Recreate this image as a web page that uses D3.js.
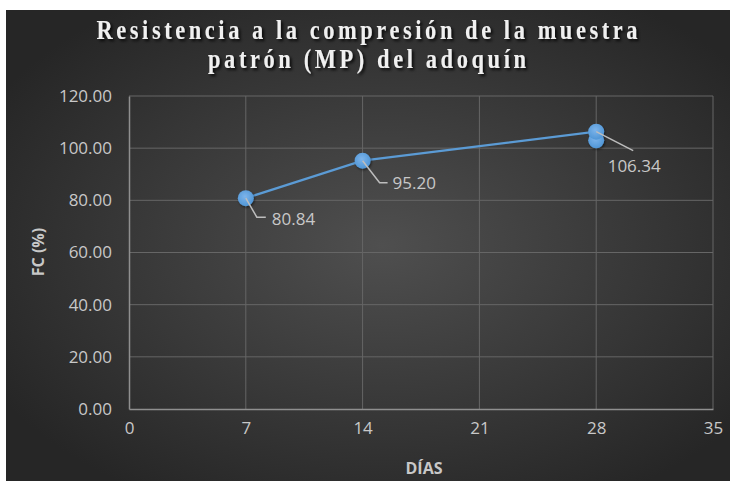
<!DOCTYPE html>
<html>
<head>
<meta charset="utf-8">
<script src="https://cdn.jsdelivr.net/npm/d3@7"></script>
<style>
  html, body { margin: 0; padding: 0; background: #ffffff; }
  svg { display: block; }
</style>
</head>
<body>
<svg id="chart" width="730" height="486"></svg>
<script>
// Compression strength of the reference paver sample (MP) by curing age
const titleLines = ["Resistencia a la compresión de la muestra", "patrón (MP) del adoquín"];
const days = [7, 14, 28];
const fcValues = [80.84, 95.20, 106.34];
const extraDays = [28];          // additional specimen marker at 28 days
const extraValues = [103.0];
const xTicks = [0, 7, 14, 21, 28, 35];
const yTicks = [0, 20, 40, 60, 80, 100, 120];
const xTitle = "DÍAS";
const yTitle = "FC (%)";

const svg = d3.select("#chart");
const W = 730, H = 486;

const defs = svg.append("defs");
const bg = defs.append("radialGradient").attr("id", "bgGrad")
  .attr("cx", "52%").attr("cy", "50%").attr("r", "62%");
bg.append("stop").attr("offset", "0%").attr("stop-color", "#4f4f4f");
bg.append("stop").attr("offset", "100%").attr("stop-color", "#262626");

const mk = defs.append("radialGradient").attr("id", "mkGrad")
  .attr("cx", "45%").attr("cy", "40%").attr("r", "60%");
mk.append("stop").attr("offset", "0%").attr("stop-color", "#7db4ea");
mk.append("stop").attr("offset", "100%").attr("stop-color", "#5096d6");

const sh = defs.append("filter").attr("id", "titleShadow")
  .attr("x", "-10%").attr("y", "-30%").attr("width", "120%").attr("height", "160%");
sh.append("feDropShadow").attr("dx", 2).attr("dy", 2).attr("stdDeviation", 1.5)
  .attr("flood-color", "#000").attr("flood-opacity", 0.85);

const mshadow = defs.append("filter").attr("id", "mkShadow")
  .attr("x", "-50%").attr("y", "-50%").attr("width", "200%").attr("height", "200%");
mshadow.append("feDropShadow").attr("dx", 1).attr("dy", 1.5).attr("stdDeviation", 1.2)
  .attr("flood-color", "#000").attr("flood-opacity", 0.5);

// chart background
svg.append("rect").attr("x", 6).attr("y", 10).attr("width", W - 6).attr("height", 471)
  .attr("fill", "url(#bgGrad)");

const margin = { left: 129, right: 17, top: 96, bottom: 77 };
const x = d3.scaleLinear().domain([0, 35]).range([margin.left, W - margin.right]);
const y = d3.scaleLinear().domain([0, 120]).range([H - margin.bottom, margin.top]);

// gridlines
const grid = svg.append("g");
grid.selectAll("line.h").data(yTicks.slice(1)).join("line")
  .attr("x1", x(0)).attr("x2", x(35))
  .attr("y1", d => y(d)).attr("y2", d => y(d))
  .attr("stroke", "#666666").attr("stroke-width", 1);
grid.selectAll("line.v").data(xTicks.slice(1)).join("line")
  .attr("y1", y(0)).attr("y2", y(120))
  .attr("x1", d => x(d)).attr("x2", d => x(d))
  .attr("stroke", "#666666").attr("stroke-width", 1);

// axes
const tickColor = "#c8c8c8";
const xAxis = svg.append("g").attr("transform", `translate(0,${y(0)})`)
  .call(d3.axisBottom(x).tickValues(xTicks).tickFormat(d3.format("d")).tickSize(0).tickPadding(13));
const yAxis = svg.append("g").attr("transform", `translate(${x(0)},0)`)
  .call(d3.axisLeft(y).tickValues(yTicks).tickFormat(d3.format(".2f")).tickSize(0).tickPadding(17));
[xAxis, yAxis].forEach(a => {
  a.select(".domain").attr("stroke", "#8f8f8f").attr("stroke-width", 1.5);
  a.selectAll("text").attr("fill", tickColor)
    .style("font-family", "'Open Sans', sans-serif").style("font-size", "17px");
});

// axis titles
svg.append("text").attr("x", 424).attr("y", 474).attr("text-anchor", "middle")
  .attr("fill", tickColor).style("font-family", "'Open Sans', sans-serif")
  .style("font-size", "16px").style("font-weight", "bold").text(xTitle);
svg.append("text").attr("transform", "translate(44,252) rotate(-90)").attr("text-anchor", "middle")
  .attr("fill", tickColor).style("font-family", "'Open Sans', sans-serif")
  .style("font-size", "16px").style("font-weight", "bold").text(yTitle);

// title: condensed serif glyphs with wide letter spacing
const titleG = svg.append("g").attr("filter", "url(#titleShadow)");
const titleSpec = [{ y: 39, len: 541 }, { y: 68, len: 318 }];
const squeeze = 0.8;
titleLines.forEach((t, i) => {
  titleG.append("text")
    .attr("transform", `translate(367,${titleSpec[i].y}) scale(${squeeze},1)`)
    .attr("text-anchor", "middle")
    .attr("fill", "#f0f0f0")
    .attr("textLength", titleSpec[i].len / squeeze).attr("lengthAdjust", "spacing")
    .style("font-family", "'Liberation Serif', 'Times New Roman', serif")
    .style("font-size", "28px").style("font-weight", "bold").text(t);
});

// data line
const pts = days.map((d, i) => ({ d, v: fcValues[i] }));
svg.append("path").datum(pts)
  .attr("fill", "none").attr("stroke", "#5b9bd5").attr("stroke-width", 2.2)
  .attr("d", d3.line().x(p => x(p.d)).y(p => y(p.v)));

// markers
const extra = extraDays.map((d, i) => ({ d, v: extraValues[i] }));
svg.append("g").attr("filter", "url(#mkShadow)")
  .selectAll("circle").data(extra.concat(pts)).join("circle")
  .attr("cx", p => x(p.d)).attr("cy", p => y(p.v)).attr("r", 8)
  .attr("fill", "url(#mkGrad)");

// data labels with leader lines (offsets relative to the point)
const labelSpec = [
  { leader: [[0, 0], [11, 19], [20, 19]], tx: 26, ty: 27, anchor: "start" },
  { leader: [[0, 0], [17, 22], [25, 22]], tx: 30, ty: 28, anchor: "start" },
  { leader: [[0, 0], [37, 19]], tx: 38, ty: 40, anchor: "middle" }
];
const lab = svg.append("g");
pts.forEach((p, i) => {
  const s = labelSpec[i];
  const px = x(p.d), py = y(p.v);
  lab.append("polyline")
    .attr("points", s.leader.map(q => `${px + q[0]},${py + q[1]}`).join(" "))
    .attr("fill", "none").attr("stroke", "#bdbdbd").attr("stroke-width", 1.5);
  lab.append("text").attr("x", px + s.tx).attr("y", py + s.ty).attr("text-anchor", s.anchor)
    .attr("fill", tickColor).style("font-family", "'Open Sans', sans-serif")
    .style("font-size", "17px").text(d3.format(".2f")(p.v));
});
</script>
</body>
</html>
